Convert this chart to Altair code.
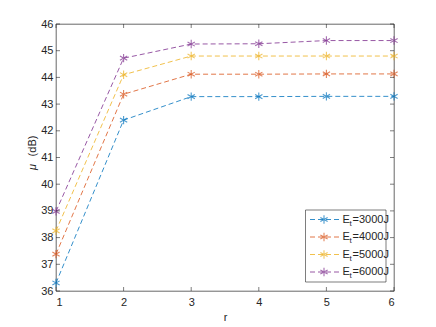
import altair as alt
import pandas as pd

r_vals = [1, 2, 3, 4, 5, 6]
series_names = ["3000J", "4000J", "5000J", "6000J"]
mu_3000 = [36.3, 42.4, 43.28, 43.28, 43.29, 43.29]
mu_4000 = [37.38, 43.37, 44.12, 44.12, 44.13, 44.13]
mu_5000 = [38.25, 44.1, 44.8, 44.8, 44.8, 44.8]
mu_6000 = [38.98, 44.72, 45.25, 45.26, 45.38, 45.38]
colors = ["#0072BD", "#D95319", "#EDB120", "#7E2F8E"]
x_ticks = [1, 2, 3, 4, 5, 6]
y_ticks = [36, 37, 38, 39, 40, 41, 42, 43, 44, 45, 46]

W, H = 338, 267
FONT = "Liberation Sans"
AX = "#262626"
STAR = "M0,-1L0,1M-0.87,-0.5L0.87,0.5M-0.87,0.5L0.87,-0.5"

rows = []
for name, vals in zip(series_names, [mu_3000, mu_4000, mu_5000, mu_6000]):
    for r, v in zip(r_vals, vals):
        rows.append({"r": r, "mu": v, "series": name})
df = pd.DataFrame(rows)

xs = alt.Scale(domain=[1, 6], nice=False)
ys = alt.Scale(domain=[36, 46], nice=False, zero=False)
cs = alt.Scale(domain=series_names, range=colors)

x_axis = alt.Axis(values=x_ticks, title="r", grid=False, ticks=False, domain=False,
                  labelPadding=5, titlePadding=4, format="d", labelOverlap=False)
y_axis = alt.Axis(values=y_ticks, title=None, grid=False, ticks=False, domain=False,
                  labelPadding=3, format="d", labelOverlap=False)

lines = alt.Chart(df).mark_line(strokeWidth=0.8, strokeDash=[5, 3]).encode(
    x=alt.X("r:Q", scale=xs, axis=x_axis), y=alt.Y("mu:Q", scale=ys, axis=y_axis),
    color=alt.Color("series:N", scale=cs, legend=None), detail="series:N")
pts = alt.Chart(df).mark_point(shape=STAR, size=70, filled=False, strokeWidth=1.1).encode(
    x=alt.X("r:Q", scale=xs, axis=x_axis), y=alt.Y("mu:Q", scale=ys, axis=y_axis),
    color=alt.Color("series:N", scale=cs, legend=None))

xt = pd.DataFrame({"r": x_ticks})
yt = pd.DataFrame({"mu": y_ticks})
tick_layers = [
    alt.Chart(xt).mark_rule(color=AX, strokeWidth=0.6).encode(
        x=alt.X("r:Q", scale=xs, axis=x_axis), y=alt.value(H), y2=alt.value(H - 4)),
    alt.Chart(xt).mark_rule(color=AX, strokeWidth=0.6).encode(
        x=alt.X("r:Q", scale=xs, axis=x_axis), y=alt.value(0), y2=alt.value(4)),
    alt.Chart(yt).mark_rule(color=AX, strokeWidth=0.6).encode(
        y=alt.Y("mu:Q", scale=ys, axis=y_axis), x=alt.value(0), x2=alt.value(4)),
    alt.Chart(yt).mark_rule(color=AX, strokeWidth=0.6).encode(
        y=alt.Y("mu:Q", scale=ys, axis=y_axis), x=alt.value(W), x2=alt.value(W - 4)),
]

one = pd.DataFrame({"a": [0]})
ytitle = [
    alt.Chart(one).mark_text(text="μ", angle=270, align="center", baseline="middle", font=FONT,
                             fontSize=11, fontStyle="italic", color=AX).encode(
        x=alt.value(-23), y=alt.value(143)),
    alt.Chart(one).mark_text(text="(dB)", angle=270, align="center", baseline="middle", font=FONT,
                             fontSize=11, color=AX).encode(
        x=alt.value(-23), y=alt.value(122)),
]

# legend
leg_layers = [
    alt.Chart(one).mark_rect(fill="white", stroke=AX, strokeWidth=0.6).encode(
        x=alt.value(249.5), x2=alt.value(330), y=alt.value(186), y2=alt.value(258))
]
row_y = [195.5, 213, 230.5, 248]
for name, col, yy in zip(series_names, colors, row_y):
    d = pd.DataFrame({"series": [name]})
    leg_layers.append(alt.Chart(d).mark_rule(color=col, strokeWidth=0.8, strokeDash=[5, 3]).encode(
        x=alt.value(254), x2=alt.value(284), y=alt.value(yy)))
    leg_layers.append(alt.Chart(d).mark_point(shape=STAR, size=70, filled=False, strokeWidth=1.1, color=col).encode(
        x=alt.value(268), y=alt.value(yy)))
    leg_layers.append(alt.Chart(d).mark_text(text="E", align="left", baseline="middle", font=FONT,
                                             fontSize=11, color=AX).encode(
        x=alt.value(286.5), y=alt.value(yy)))
    leg_layers.append(alt.Chart(d).mark_text(text="t", align="left", baseline="middle", font=FONT,
                                             fontSize=8, color=AX).encode(
        x=alt.value(293.5), y=alt.value(yy + 4)))
    leg_layers.append(alt.Chart(d).transform_calculate(lbl="'=' + datum.series").mark_text(
        align="left", baseline="middle", font=FONT, fontSize=11, color=AX).encode(
        x=alt.value(296.5), y=alt.value(yy), text="lbl:N"))

chart = alt.layer(lines, pts, *tick_layers, *ytitle, *leg_layers).properties(
    width=W, height=H, autosize=alt.AutoSizeParams(type="none"),
    padding={"left": 48, "top": 16, "right": 34, "bottom": 31}
).configure_view(stroke=AX, strokeWidth=0.7).configure_axis(
    labelFont=FONT, titleFont=FONT, labelFontSize=11, titleFontSize=11,
    labelColor=AX, titleColor=AX, titleFontWeight="normal", labelOverlap=False
)

chart.save("out.html", embed_options={"renderer": "svg", "actions": False})
